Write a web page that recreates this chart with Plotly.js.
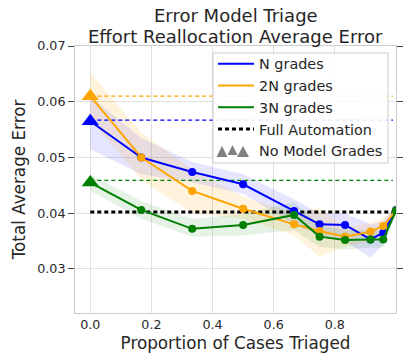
<!DOCTYPE html>
<html>
<head>
<meta charset="utf-8">
<script src="https://cdn.plot.ly/plotly-3.0.1.min.js"></script>
<style>html,body{margin:0;padding:0;background:#fff;}#chart{width:415px;height:363px;}</style>
</head>
<body>
<div id="chart"></div>
<script>
var xs = [0, 1/6, 1/3, 1/2, 2/3, 3/4, 5/6, 11/12, 23/24, 1];
var nGrades  = [0.0565, 0.0500, 0.0474, 0.0452, 0.0404, 0.0380, 0.0379, 0.0353, 0.0365, 0.0406];
var n2Grades = [0.0610, 0.0500, 0.0440, 0.0408, 0.0380, 0.0368, 0.0358, 0.0367, 0.0377, 0.0405];
var n3Grades = [0.0455, 0.0406, 0.0372, 0.0379, 0.0397, 0.0358, 0.0352, 0.0353, 0.0353, 0.0405];
var nLow   = [0.0515, 0.0470, 0.0455, 0.0435, 0.0380, 0.0360, 0.0350, 0.0320, 0.0345, 0.0400];
var nHigh  = [0.0610, 0.0535, 0.0492, 0.0470, 0.0425, 0.0400, 0.0400, 0.0380, 0.0385, 0.0412];
var n2Low  = [0.0570, 0.0460, 0.0400, 0.0390, 0.0360, 0.0322, 0.0340, 0.0350, 0.0360, 0.0400];
var n2High = [0.0652, 0.0545, 0.0478, 0.0430, 0.0400, 0.0410, 0.0375, 0.0382, 0.0392, 0.0410];
var n3Low  = [0.0440, 0.0390, 0.0358, 0.0360, 0.0370, 0.0340, 0.0335, 0.0338, 0.0338, 0.0400];
var n3High = [0.0470, 0.0422, 0.0390, 0.0398, 0.0420, 0.0378, 0.0370, 0.0368, 0.0368, 0.0410];
var noModel = {n: 0.0567, n2: 0.0610, n3: 0.0459};
var fullAutomation = 0.0402;
var lineX = [0, 0.99];
var xTicks = [0, 0.2, 0.4, 0.6, 0.8];
var xTickText = ['0.0', '0.2', '0.4', '0.6', '0.8'];
var yTicks = [0.03, 0.04, 0.05, 0.06, 0.07];
var titleLines = ['Error Model Triage', 'Effort Reallocation Average Error'];
var legendNames = ['N grades', '2N grades', '3N grades', 'Full Automation', 'No Model Grades'];

var BLUE = '#0000ff', ORANGE = '#ffa500', GREEN = '#008000', TXT = '#262626';

function band(lo, hi, fill) {
  return [
    {x: xs, y: lo, mode: 'lines', line: {width: 0, color: 'rgba(0,0,0,0)'}, showlegend: false, hoverinfo: 'skip'},
    {x: xs, y: hi, mode: 'lines', line: {width: 0, color: 'rgba(0,0,0,0)'}, fill: 'tonexty', fillcolor: fill, showlegend: false, hoverinfo: 'skip'}
  ];
}
function hline(y, color, dash, width, xArr) {
  return {x: xArr, y: [y, y], mode: 'lines', line: {color: color, dash: dash, width: width}, showlegend: false, hoverinfo: 'skip'};
}
function series(y, color) {
  return {x: xs.slice(1), y: y.slice(1), mode: 'lines+markers',
    line: {color: color, width: 2}, marker: {color: color, size: 8}, showlegend: false};
}
function seriesHead(y, color) {
  return {x: [xs[0], xs[1]], y: [y[0], y[1]], mode: 'lines', line: {color: color, width: 2}, showlegend: false, hoverinfo: 'skip'};
}
function tri(y, color) {
  return {x: [xs[0]], y: [y[0]], mode: 'markers', marker: {symbol: 'triangle-up', size: 15, color: color}, showlegend: false};
}

var traces = [];
traces = traces.concat(band(nLow, nHigh, 'rgba(0,0,255,0.10)'));
traces = traces.concat(band(n2Low, n2High, 'rgba(255,165,0,0.13)'));
traces = traces.concat(band(n3Low, n3High, 'rgba(0,128,0,0.10)'));
traces.push(hline(noModel.n2, ORANGE, '4px,3px', 1.2, lineX));
traces.push(hline(noModel.n, BLUE, '4px,3px', 1.2, lineX));
traces.push(hline(noModel.n3, GREEN, '4px,3px', 1.2, lineX));
traces.push(hline(fullAutomation, '#000000', '4px,3px', 3, [0, 1]));
traces.push(seriesHead(nGrades, BLUE), seriesHead(n2Grades, ORANGE), seriesHead(n3Grades, GREEN));
traces.push(series(nGrades, BLUE), series(n2Grades, ORANGE), series(n3Grades, GREEN));
traces.push(tri(nGrades, BLUE), tri(n2Grades, ORANGE), tri(n3Grades, GREEN));
// legend entries
traces.push({x: [null], y: [null], mode: 'lines', name: legendNames[0], line: {color: BLUE, width: 2}});
traces.push({x: [null], y: [null], mode: 'lines', name: legendNames[1], line: {color: ORANGE, width: 2}});
traces.push({x: [null], y: [null], mode: 'lines', name: legendNames[2], line: {color: GREEN, width: 2}});
traces.push({x: [null], y: [null], mode: 'lines', name: legendNames[3], line: {color: '#000000', width: 3, dash: '4px,3px'}});
traces.push({x: [null], y: [null], mode: 'markers', name: legendNames[4], marker: {symbol: 'triangle-up', size: 13, color: 'rgba(0,0,0,0)'}});

// plot area in px: left 75, right 396, top 46, bottom 313
function px(xp) { return (xp - 75) / 321; }
function py(yp) { return (313 - yp) / 267; }
function triPath(cx, base, top, hw) {
  return 'M ' + px(cx - hw) + ' ' + py(base) + ' L ' + px(cx + hw) + ' ' + py(base) + ' L ' + px(cx) + ' ' + py(top) + ' Z';
}
var shapes = [{type: 'rect', xref: 'paper', yref: 'paper', x0: px(213), x1: px(388), y0: py(163), y1: py(53),
  fillcolor: 'rgba(255,255,255,0.9)', line: {color: '#cccccc', width: 1}, layer: 'above'}];
var legendTris = [[222, 157, 146, 5.5], [232.5, 155, 145, 5], [243, 157, 146, 6]];
legendTris.forEach(function (t) {
  shapes.push({type: 'path', xref: 'paper', yref: 'paper', path: triPath(t[0], t[1], t[2], t[3]),
    fillcolor: '#808080', line: {width: 0}, layer: 'above'});
});

var layout = {
  width: 415, height: 363,
  margin: {l: 75, r: 19, t: 46, b: 50},
  paper_bgcolor: '#ffffff', plot_bgcolor: '#ffffff',
  font: {family: 'DejaVu Sans', color: TXT, size: 12},
  annotations: [
    {text: titleLines[0], xref: 'paper', yref: 'paper', x: 0.5, y: py(16), xanchor: 'center', yanchor: 'middle', showarrow: false, font: {size: 18, color: TXT}},
    {text: titleLines[1], xref: 'paper', yref: 'paper', x: 0.5, y: py(36.5), xanchor: 'center', yanchor: 'middle', showarrow: false, font: {size: 18, color: TXT}}
  ],
  shapes: shapes,
  xaxis: {range: [-0.05, 1.0], tickvals: xTicks, ticktext: xTickText, showgrid: true, gridcolor: '#e0e0e0', gridwidth: 1,
    zeroline: false, showline: true, linecolor: '#cccccc', mirror: true, ticks: '',
    tickfont: {size: 12.7, color: TXT},
    title: {text: 'Proportion of Cases Triaged', font: {size: 16.8, color: TXT}, standoff: 5}},
  yaxis: {range: [0.0221, 0.07], tickvals: yTicks, tickformat: '.2f', showgrid: true, gridcolor: '#e0e0e0', gridwidth: 1,
    zeroline: false, showline: true, linecolor: '#cccccc', mirror: 'ticks', ticks: 'outside', ticklen: 6, tickcolor: '#444444',
    tickfont: {size: 12.7, color: TXT},
    title: {text: 'Total Average Error', font: {size: 16.8, color: TXT}, standoff: 7}},
  legend: {x: px(213), y: py(48), xanchor: 'left', yanchor: 'top', bgcolor: 'rgba(0,0,0,0)', borderwidth: 0,
    font: {size: 14.4, color: TXT}, tracegroupgap: 0, traceorder: 'normal', itemwidth: 36},
  showlegend: true
};
Plotly.newPlot('chart', traces, layout, {displayModeBar: false, staticPlot: true});
</script>
</body>
</html>
